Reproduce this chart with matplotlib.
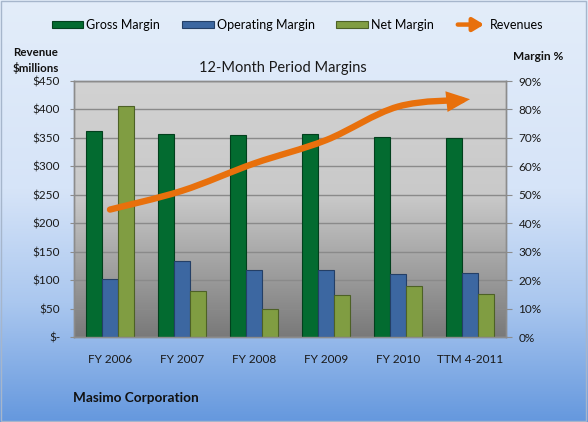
import numpy as np
import matplotlib
matplotlib.use("Agg")
import matplotlib.pyplot as plt
from matplotlib.path import Path
from matplotlib.patches import FancyArrowPatch, Rectangle, Patch
from matplotlib.legend_handler import HandlerBase
from matplotlib.colors import LinearSegmentedColormap
from matplotlib.ticker import FuncFormatter, MultipleLocator

plt.rcParams['font.family'] = ['Lato', 'DejaVu Sans']

categories = ["FY 2006", "FY 2007", "FY 2008", "FY 2009", "FY 2010", "TTM 4-2011"]
gross_margin = [72.4, 71.3, 70.9, 71.3, 70.3, 69.9]
operating_margin = [20.4, 26.6, 23.5, 23.5, 22.2, 22.5]
net_margin = [81.1, 16.3, 9.8, 14.7, 18.0, 15.1]
revenues = [224, 257, 305, 346, 405, 418]

c_gross = "#036b30"
c_op = "#3c67a1"
c_net = "#809d42"
c_rev = "#e8700c"
txt = "#1a1a1a"

W, H = 588, 422
fig = plt.figure(figsize=(W / 100, H / 100), dpi=100)

# figure background gradient
bg = fig.add_axes([0, 0, 1, 1], zorder=-10)
bg_cmap = LinearSegmentedColormap.from_list(
    "bg", [(0, "#e3edfa"), (0.45, "#d6e4f8"), (0.72, "#aac7ef"), (1.0, "#6598de")])
grad = np.linspace(0, 1, 256).reshape(-1, 1)
bg.imshow(grad, cmap=bg_cmap, aspect="auto", extent=[0, 1, 0, 1], origin="upper")
bg.set_xlim(0, 1); bg.set_ylim(0, 1)
bg.axis("off")
bg.add_patch(Rectangle((0.002, 0.003), 0.995, 0.994, fill=False,
                       edgecolor="#a6b6cc", lw=1.0, transform=bg.transAxes))

left, right = 74 / W, 506 / W
bottom, top = (H - 337) / H, (H - 81) / H
ax = fig.add_axes([left, bottom, right - left, top - bottom])
ax2 = ax.twinx()

# plot area gradient
pa_cmap = LinearSegmentedColormap.from_list(
    "pa", [(0, "#d2d2d2"), (0.45, "#c9c9c9"), (0.72, "#a2a2a2"), (1.0, "#797979")])
ax.imshow(grad, cmap=pa_cmap, aspect="auto", extent=[0, 1, 0, 1],
          origin="upper", transform=ax.transAxes, zorder=0)

x = np.arange(len(categories))
bw = 0.218
ax.bar(x - bw, gross_margin, bw, color=c_gross, edgecolor="#02401d", lw=0.8, zorder=3)
ax.bar(x, operating_margin, bw, color=c_op, edgecolor="#243f66", lw=0.8, zorder=3)
ax.bar(x + bw, net_margin, bw, color=c_net, edgecolor="#4d6126", lw=0.8, zorder=3)

ax.set_xlim(-0.5, len(categories) - 0.5)
ax.set_ylim(0, 90)
ax.yaxis.set_major_locator(MultipleLocator(10))
ax.yaxis.set_major_formatter(FuncFormatter(lambda v, p: f"{v:.0f}%"))
ax.set_axisbelow(True)
ax.yaxis.grid(True, color="#8a8a8a", lw=1.0, zorder=1)
ax.yaxis.tick_right()
ax.yaxis.set_label_position("right")

ax2.set_ylim(0, 450)
ax2.yaxis.set_major_locator(MultipleLocator(50))
ax2.yaxis.set_major_formatter(FuncFormatter(lambda v, p: "$-" if v == 0 else f"${v:.0f}"))
ax2.yaxis.tick_left()

for a in (ax, ax2):
    for s in a.spines.values():
        s.set_color("#8c8c8c")
        s.set_linewidth(1.0)
ax.tick_params(axis="y", length=4, color="#8c8c8c", labelsize=8.5,
               labelcolor=txt, pad=5)
ax2.tick_params(axis="y", length=3, color="#8c8c8c", labelsize=8.5,
                labelcolor=txt, pad=7)

ax.set_xticks(x)
ax.set_xticklabels(categories)
ax.tick_params(axis="x", length=0, labelsize=8.5, labelcolor=txt, pad=12)

# smooth revenue line (Catmull-Rom style Bezier through the data points)
pts = np.column_stack([x, revenues]).astype(float)
verts = [tuple(pts[0])]
codes = [Path.MOVETO]
n = len(pts)
for i in range(n - 1):
    p_prev = pts[i - 1] if i > 0 else pts[i]
    p_next2 = pts[i + 2] if i + 2 < n else pts[i + 1]
    c1 = pts[i] + (pts[i + 1] - p_prev) / 6.0
    c2 = pts[i + 1] - (p_next2 - pts[i]) / 6.0
    verts += [tuple(c1), tuple(c2), tuple(pts[i + 1])]
    codes += [Path.CURVE4] * 3
rev_path = Path(verts, codes)
arrow = FancyArrowPatch(path=rev_path, arrowstyle="-|>,head_length=0.5,head_width=0.22",
                        mutation_scale=18, color=c_rev, lw=4.6, capstyle="round",
                        joinstyle="miter", transform=ax2.transData, zorder=5)
ax2.add_patch(arrow)

fig.text(283 / W, 1 - 68 / H, "12-Month Period Margins", fontsize=10.5, color=txt,
         ha="center", va="center")


class ArrowHandler(HandlerBase):
    def create_artists(self, legend, orig_handle, xdescent, ydescent, width, height,
                       fontsize, trans):
        y = height / 2 - ydescent
        p = FancyArrowPatch((-xdescent, y), (width - xdescent, y),
                            arrowstyle="-|>,head_length=0.5,head_width=0.3",
                            mutation_scale=13, color=c_rev, lw=3.2,
                            transform=trans)
        return [p]


class ArrowProxy:
    pass


handles = [Patch(facecolor=c_gross, edgecolor="#02401d", lw=0.8),
           Patch(facecolor=c_op, edgecolor="#243f66", lw=0.8),
           Patch(facecolor=c_net, edgecolor="#4d6126", lw=0.8),
           ArrowProxy()]
labels = ["Gross Margin", "Operating Margin", "Net Margin", "Revenues"]
fig.legend(handles, labels, loc="center", bbox_to_anchor=(297.5 / W, 1 - 25 / H), ncol=4,
           frameon=False, fontsize=9, handlelength=2.55, handleheight=0.5,
           handletextpad=0.25, columnspacing=1.7,
           handler_map={ArrowProxy: ArrowHandler()})

fig.text(13 / W, 1 - 53 / H, "Revenue", fontsize=8.3, fontweight="bold",
         ha="left", va="center", color="#111111")
fig.text(13 / W, 1 - 68 / H, "$millions", fontsize=8.3, fontweight="bold",
         ha="left", va="center", color="#111111")
fig.text(513 / W, 1 - 56 / H, "Margin %", fontsize=8.6, fontweight="bold",
         ha="left", va="center", color="#111111")
fig.text(73 / W, 1 - 398 / H, "Masimo Corporation", fontsize=9.8, fontweight="bold",
         ha="left", va="center", color="#111111")

fig.savefig("out.png", dpi=100)
